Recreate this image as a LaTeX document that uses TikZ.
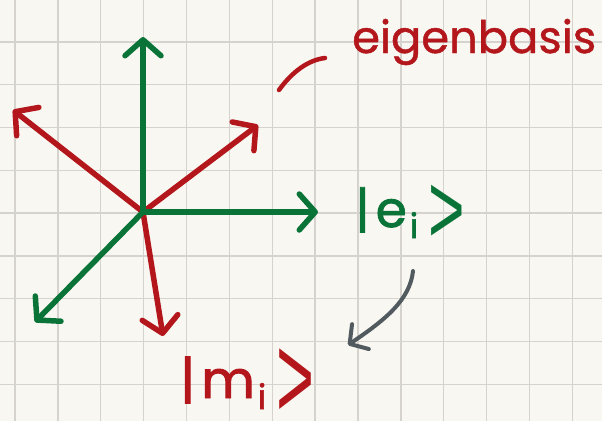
\documentclass[tikz,border=0pt]{standalone}
\usepackage{fontspec}
\usepackage{graphicx}
\setmainfont{Poppins}
\newfontfamily\thickhand[FakeBold=1.8]{Poppins}
\newfontfamily\medhand[FakeBold=1.0]{Poppins}
\newfontfamily\anglehand{Liberation Sans}
\usetikzlibrary{arrows.meta}
\definecolor{paper}{HTML}{F9F7F2}
\definecolor{gridc}{HTML}{D6D2CD}
\definecolor{pgreen}{HTML}{0A7438}
\definecolor{pred}{HTML}{B3171C}
\definecolor{pgray}{HTML}{515B5F}
\newcommand\myket[3]{{\thickhand|\hspace{6pt}#1\hspace{3pt}\raisebox{-11pt}{\fontsize{34}{34}\selectfont i}}\hspace{10pt}\raisebox{#2}{\scalebox{1.25}[#3]{\anglehand >}}}
\begin{document}
\begin{tikzpicture}[x=1pt,y=-1pt,
  vec/.style={line width=5.5pt, line cap=round,
    -{Straight Barb[length=16pt,width=36pt,round]}},
  gvec/.style={vec, draw=pgreen},
  rvec/.style={vec, draw=pred},
  hand/.style={anchor=base west, inner sep=0pt}]
\fill[paper] (0,0) rectangle (602,421);
\useasboundingbox (0,0) rectangle (602,421);
% grid
\foreach \i in {0,...,13}{
  \draw[gridc, line width=1.4pt] ({15+42.87*\i},0) -- ({15+42.87*\i},421);}
\foreach \j in {1,...,9}{
  \draw[gridc, line width=1.4pt] (0,{-1+42.8*\j}) -- (602,{-1+42.8*\j});}
% coordinates
\coordinate (O) at (143,212);
\coordinate (gu) at (143,37);
\coordinate (gr) at (318,212);
\coordinate (gdl) at (35,322);
\coordinate (rul) at (13,110);
\coordinate (rur) at (258,125);
\coordinate (rd) at (163,336);
% red vectors
\draw[rvec] (O) -- (rul);
\draw[rvec] (O) -- (rur);
\draw[rvec] (O) -- (rd);
% green vectors
\draw[gvec] (O) -- (gu);
\draw[gvec] (O) -- (gr);
\draw[gvec] (O) -- (gdl);
% labels
\node[hand, text=pred, font=\fontsize{42}{42}\medhand] (eig) at (352,53) {\resizebox{244pt}{!}{eigenbasis}};
\node[hand, text=pgreen, font=\fontsize{50}{50}\selectfont] (ket e) at (355,227) {\myket{e}{-16pt}{2.0}};
\node[hand, text=pred, font=\fontsize{52}{52}\selectfont] (ket m) at (180,398) {\myket{m}{-20pt}{2.3}};
% pointer stroke
\coordinate (p1) at (279,90);
\coordinate (p2) at (325,58);
\draw[pred, line width=4.5pt, line cap=round] (p1) .. controls (292,72) and (308,60) .. (p2);
% gray arrow
\coordinate (a1) at (413,271);
\coordinate (a2) at (348,345);
\draw[pgray, line width=4pt, line cap=round,
  -{Straight Barb[length=13pt,width=30pt,round]}]
  (a1) .. controls (410,300) and (385,320) .. (a2);
\end{tikzpicture}
\end{document}
